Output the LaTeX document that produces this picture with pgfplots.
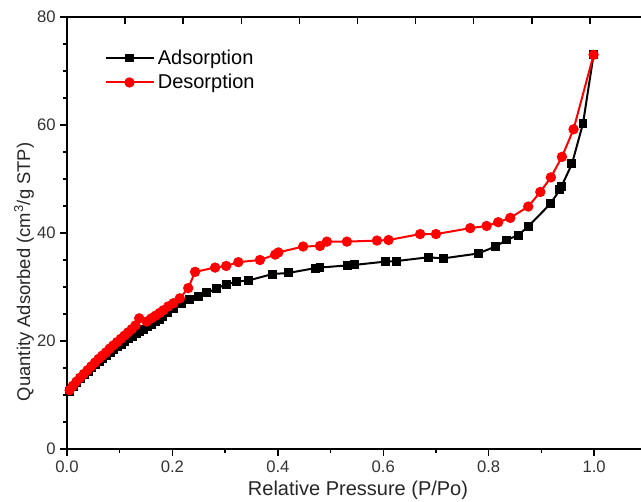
\documentclass[border=0pt]{standalone}
\usepackage{pgfplots}
\pgfplotsset{compat=1.18}
\usepackage{fontspec}
\setmainfont{Liberation Sans}
\pgfplotstableread{
x y
0.005 10.6
0.012 11.5
0.019 12.3
0.026 13.0
0.033 13.7
0.040 14.4
0.047 15.0
0.054 15.6
0.061 16.2
0.068 16.8
0.075 17.3
0.082 17.9
0.089 18.4
0.096 18.9
0.103 19.4
0.110 19.9
0.117 20.4
0.124 20.9
0.131 21.4
0.138 21.8
0.145 22.2
0.152 22.6
0.160 23.1
0.168 23.6
0.175 24.0
0.182 24.5
0.191 25.2
0.202 26.0
0.218 27.0
0.233 27.7
0.249 28.3
0.265 28.9
0.283 29.7
0.302 30.5
0.322 31.0
0.344 31.2
0.390 32.4
0.420 32.6
0.471 33.5
0.480 33.6
0.532 34.0
0.546 34.1
0.604 34.7
0.625 34.8
0.685 35.5
0.714 35.3
0.780 36.2
0.813 37.5
0.834 38.7
0.856 39.6
0.875 41.2
0.917 45.4
0.935 48.0
0.938 48.6
0.958 52.8
0.979 60.3
0.999 73.0
}\adsorption
\pgfplotstableread{
x y
0.005 10.9
0.011 11.7
0.018 12.5
0.025 13.2
0.032 13.9
0.039 14.6
0.046 15.3
0.053 16.0
0.060 16.7
0.067 17.3
0.074 17.9
0.081 18.6
0.088 19.2
0.095 19.8
0.102 20.4
0.109 21.0
0.116 21.6
0.123 22.2
0.130 22.9
0.137 24.2
0.151 23.6
0.160 24.2
0.168 24.7
0.176 25.2
0.183 25.7
0.192 26.4
0.202 27.0
0.214 27.9
0.230 29.8
0.243 32.8
0.281 33.6
0.302 33.9
0.325 34.6
0.366 35.0
0.395 36.0
0.401 36.4
0.448 37.5
0.480 37.6
0.493 38.4
0.531 38.4
0.588 38.6
0.610 38.7
0.670 39.8
0.700 39.8
0.765 40.9
0.796 41.3
0.818 42.0
0.841 42.8
0.875 44.9
0.898 47.6
0.918 50.3
0.939 54.1
0.961 59.2
0.999 73.0
}\desorption
\begin{document}
\begin{tikzpicture}
\useasboundingbox (0,0) rectangle (480.75pt,376.5pt);
\begin{axis}[
  at={(50.25pt,39.75pt)}, anchor=south west, scale only axis,
  width=430.5pt, height=324pt,
  xmin=0, xmax=1.089, ymin=0, ymax=80,
  clip=false,
  axis x line=bottom, axis y line=left,
  axis line style={-, line width=1.1pt},
  tick align=outside,
  major tick length=5pt, minor tick length=3pt,
  tick style={line width=1pt, black},
  xtick={0,0.2,0.4,0.6,0.8,1.0},
  minor xtick={0.1,0.3,0.5,0.7,0.9},
  ytick={0,20,40,60,80},
  minor ytick={5,10,15,25,30,35,45,50,55,65,70,75},
  /pgf/number format/assume math mode=true,
  xticklabel style={/pgf/number format/.cd, fixed, fixed zerofill, precision=1},
  ticklabel style={font=\fontsize{12.5}{14}\selectfont, text=black!80},
  xlabel={Relative Pressure (P/Po)},
  ylabel={Quantity Adsorbed (cm\textsuperscript{3}/g STP)},
  every axis x label/.style={at={(axis description cs:0.507,-0.095)}, anchor=center, font=\fontsize{15}{18}\selectfont, text=black!85},
  every axis y label/.style={at={(axis description cs:-0.075,0.41)}, rotate=90, anchor=center, font=\fontsize{13.8}{16}\selectfont, text=black!85},
  legend style={draw=none, fill=none, at={(axis description cs:0.066,0.931)}, anchor=north west,
    font=\fontsize{15}{18}\selectfont, inner sep=0pt, row sep=2pt, cells={anchor=west}},
  legend image code/.code={\draw[#1, mark repeat=2, mark phase=2] plot coordinates {(0pt,0pt) (17.5pt,0pt) (36pt,0pt)};},
]
\draw[line width=1.1pt] (rel axis cs:0,1) -- (rel axis cs:1,1);
\pgfplotsinvokeforeach{0.110,0.220,0.331,0.441,0.551,0.661,0.771,0.882,0.992}{
  \draw[line width=1pt] (axis cs:#1,80) -- ++(0pt,-5.5pt);
}
\addplot[black, line width=1.5pt, mark=square*, mark size=2.6pt, mark options={solid}] table[x=x,y=y] {\adsorption};
\addlegendentry{Adsorption}
\addplot[red, line width=1.5pt, mark=*, mark size=3.1pt, mark options={solid}] table[x=x,y=y] {\desorption};
\addlegendentry{Desorption}
\end{axis}
\end{tikzpicture}
\end{document}
